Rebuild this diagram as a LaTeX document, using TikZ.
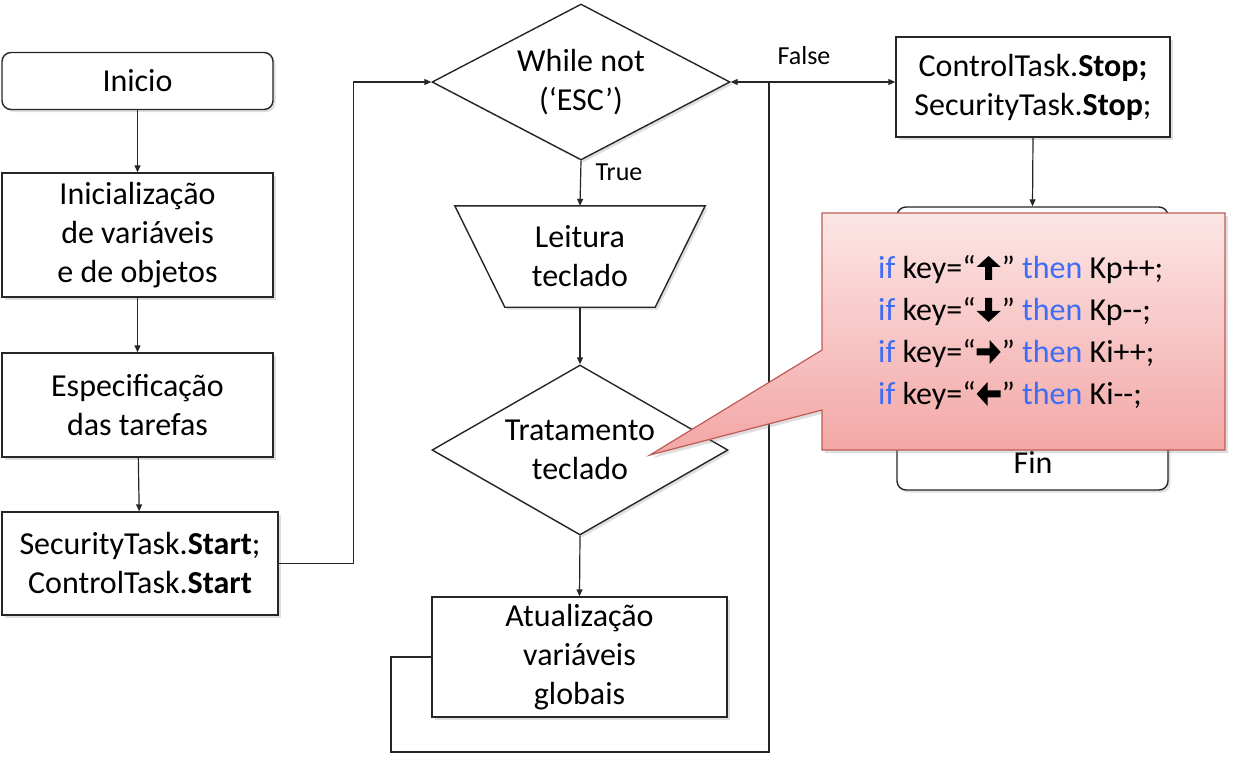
\documentclass[tikz,border=0pt]{standalone}
\usepackage{fontspec}
\setmainfont{Carlito}
\usetikzlibrary{shapes.geometric,arrows.meta,shadows,backgrounds}
\definecolor{linec}{RGB}{38,38,38}
\definecolor{kwblue}{RGB}{62,108,245}
\definecolor{calltop}{RGB}{252,230,230}
\definecolor{callbot}{RGB}{242,166,164}
\definecolor{callborder}{RGB}{192,90,86}
\newcommand\mainsz{\fontsize{32pt}{39pt}\selectfont}
\newcommand\lblsz{\fontsize{26pt}{30pt}\selectfont}
\newcommand\codesz{\fontsize{32pt}{42pt}\selectfont}
\newcommand\kw[1]{\textcolor{kwblue}{#1}}
\newcommand\karr[1]{\hspace{1pt}\tikz[baseline=0pt,x=1pt,y=1pt]{\fill[black,shift={(0,11)},rotate=#1]
  (-12,-3.5) -- (1,-3.5) -- (1,-12) -- (12,0) -- (1,12) -- (1,3.5) -- (-12,3.5) -- cycle;}\hspace{1pt}}
\tikzset{
  shadowed/.style={drop shadow={shadow xshift=2.5pt, shadow yshift=-2.5pt, opacity=0.25, fill=black!50}},
  base/.style={draw=linec, line width=1.4pt, fill=white, align=center, inner sep=0pt, font=\mainsz, shadowed},
  procbox/.style={base, rectangle},
  roundbox/.style={base, rectangle, rounded corners=9pt},
  decision/.style={base, diamond},
  conn/.style={draw=linec, line width=1.2pt, -{Triangle[length=7pt,width=6pt]}},
  lbl/.style={font=\lblsz, inner sep=0pt},
}
\begin{document}
\begin{tikzpicture}[x=1pt,y=-1pt]
\useasboundingbox (0,0) rectangle (1234,756);
% left column
\node[roundbox, minimum width=271pt, minimum height=57pt] (ini) at (137.5,81) {Inicio};
\node[procbox, minimum width=271pt, minimum height=124pt] (init) at (137.5,235) {Inicialização\\de variáveis\\e de objetos};
\node[procbox, minimum width=271pt, minimum height=104pt] (espec) at (137.5,405) {Especificação\\das tarefas};
\node[procbox, minimum width=276pt, minimum height=103pt] (sec) at (140,563.5) {SecurityTask.\textbf{Start};\\ControlTask.\textbf{Start}};
% middle column
\node[decision, aspect=1.91, minimum width=298pt, minimum height=156pt] (while) at (581,82) {While not\\(‘ESC’)};
\node[align=center, inner sep=0pt, font=\mainsz, minimum width=250pt, minimum height=101pt] (leit) at (580,256.5) {Leitura\\teclado};
\begin{scope}[on background layer]
\draw[draw=linec, line width=1.4pt, fill=white, shadowed]
  (leit.north west) -- (leit.north east) -- ([xshift=-50pt]leit.south east) -- ([xshift=50pt]leit.south west) -- cycle;
\end{scope}
\node[decision, aspect=1.74, minimum width=296pt, minimum height=170pt] (trat) at (580,450) {Tratamento\\teclado};
\node[procbox, minimum width=295pt, minimum height=120pt] (atual) at (579.5,657) {Atualização\\variáveis\\globais};
% right column
\node[procbox, minimum width=274pt, minimum height=100pt] (stop) at (1033,87) {ControlTask.\textbf{Stop;}\\SecurityTask.\textbf{Stop};};
\node[roundbox, minimum width=271pt, minimum height=283pt] (fin) at (1032.5,348.5) {};
\node[font=\mainsz, inner sep=0pt] (fintxt) at (1033,462) {Fin};
% connectors
\draw[conn] (ini) -- (init);
\draw[conn] (init) -- (espec);
\draw[conn] (espec) -- (sec);
\draw[conn] (sec.east) -- ++(75,0) |- (while.west);
\draw[conn] (while.south) -- (leit.north);
\draw[conn] (leit.south) -- (trat.north);
\draw[conn] (trat.south) -- (atual.north);
\coordinate (lp1) at (391,752);
\coordinate (lp2) at (769,82);
\draw[conn] (atual.west) -| (lp1) -| (lp2) -- (while.east);
\draw[conn] (lp2) -- (lp2 -| stop.west);
\draw[conn] (stop.south) -- (fin.north);
\node[lbl] (truelbl) at (619,172) {True};
\node[lbl] (falselbl) at (804,56) {False};
% callout
\path[draw=callborder, line width=1.2pt, top color=calltop, bottom color=callbot,
      drop shadow={shadow xshift=3pt, shadow yshift=-3pt, opacity=0.25, fill=black!50}]
  (822,213) -- (1225,213) -- (1225,450) -- (822,450) -- (822,410) -- (650,455) -- (822,350) -- cycle;
\node[anchor=west, align=left, font=\codesz, inner sep=0pt] (code) at (878,333)
  {\kw{if} key=“\karr{90}” \kw{then} Kp++;\\
   \kw{if} key=“\karr{-90}” \kw{then} Kp-{}-;\\
   \kw{if} key=“\karr{0}” \kw{then} Ki++;\\
   \kw{if} key=“\karr{180}” \kw{then} Ki-{}-;};
\end{tikzpicture}
\end{document}
